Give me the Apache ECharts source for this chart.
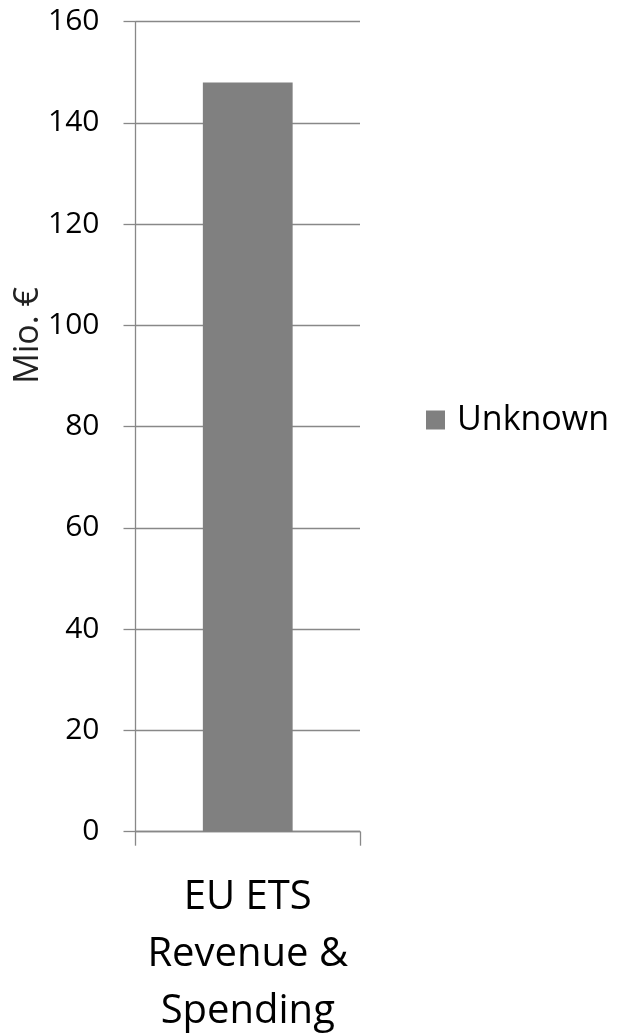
<!DOCTYPE html>
<html>
<head>
<meta charset="utf-8">
<script src="https://cdn.jsdelivr.net/npm/echarts@6/dist/echarts.min.js"></script>
<style>html,body{margin:0;padding:0;background:#fff;}#c{width:629px;height:1033px;}</style>
</head>
<body>
<div id="c"></div>
<script>
const categories = ['EU ETS\nRevenue &\nSpending'];
const seriesName = 'Unknown';
const values = [148];
const yTicks = { min: 0, max: 160, interval: 20 };
const yAxisTitle = 'Mio. €';

const chart = echarts.init(document.getElementById('c'));
const font = '"Open Sans", sans-serif';
chart.setOption({
  animation: false,
  grid: { left: 135.5, right: 269, top: 21.7, bottom: 201.3, containLabel: false, outerBoundsMode: 'none' },
  legend: {
    data: [seriesName], left: 426, top: 403, padding: 0, icon: 'rect', itemWidth: 19, itemHeight: 19, itemGap: 10,
    textStyle: { fontFamily: font, fontSize: 34, color: '#000', padding: [0, 0, 0, 7] }
  },
  xAxis: {
    type: 'category', data: categories, boundaryGap: true,
    axisLine: { lineStyle: { color: '#888', width: 1.3 } },
    axisTick: { show: true, length: 14, alignWithLabel: false, lineStyle: { color: '#888', width: 1.3 } },
    axisLabel: { fontFamily: font, fontSize: 40, lineHeight: 57, color: '#000', margin: 37 }
  },
  yAxis: {
    type: 'value', min: yTicks.min, max: yTicks.max, interval: yTicks.interval,
    axisLine: { show: true, lineStyle: { color: '#888', width: 1.3 } },
    axisTick: { show: true, length: 12, lineStyle: { color: '#888', width: 1.3 } },
    splitLine: { show: true, lineStyle: { color: '#888', width: 1.3 } },
    axisLabel: { fontFamily: font, fontSize: 30, color: '#000', margin: 36 }
  },
  graphic: [{
    type: 'text', left: 11, top: 287, rotation: Math.PI / 2,
    style: { text: yAxisTitle, fontFamily: font, fontSize: 34, fill: '#222' }
  }],
  series: [{
    name: seriesName, type: 'bar', data: values, barWidth: '40%',
    itemStyle: { color: '#808080' }
  }]
});
</script>
</body>
</html>
